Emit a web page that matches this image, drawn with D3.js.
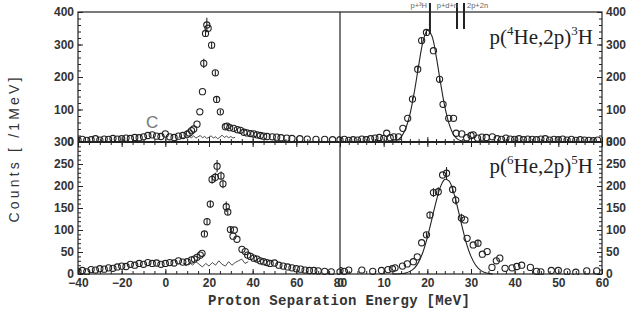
<!DOCTYPE html>
<html>
<head>
<meta charset="utf-8">
<title>p(4He,2p)3H / p(6He,2p)5H</title>
<style>
  html,body{margin:0;background:#fff;}
  svg{display:block;}
  .tick text{font-family:"Liberation Sans",Arial,sans-serif;font-size:12px;font-weight:bold;fill:#333;}
  .tick line{stroke:#222;}
</style>
</head>
<body>
<div id="chart"></div>
<script src="https://cdn.jsdelivr.net/npm/d3@7"></script>
<script>
// rows: [energy MeV, counts, error bar half-length in counts]
const he4Wide = [
  [-40,6,0],[-38,8,0],[-36,5,0],[-34,7,0],[-32,10,0],[-30,6,0],[-28,9,0],[-26,8,0],[-24,11,0],
  [-22,9,0],[-20,10,0],[-18,12,0],[-16,11,0],[-14,14,0],[-12,13,0],[-10,16,0],[-8,20,0],[-6,22,0],
  [-4,18,0],[-2,17,0],[0,25,0],[2,16,0],[4,14,0],[6,18,0],[8,20,0],[10,24,0],[11,28,0],[12,35,0],
  [13,40,0],[14.5,55,0],[15.8,93,0],[17,155,0],[17.6,242,14],[18.4,334,10],[19,360,22],[19.6,350,0],
  [21.2,298,10],[22.9,213,8],[23.5,131,8],[25.2,93,6],[27.5,47,0],[28.3,49,0],[29.5,44,0],[31.3,42,0],
  [33,38,0],[34.4,36,0],[36,30,0],[37.4,28,0],[39,26,0],[40.5,25,0],[42,22,0],[43.5,20,0],[45,18,0],
  [46.6,17,0],[49,16,0],[51,15,0],[53,13,0],[55.6,12,0],[58,11,0],[61.6,10,0],[65,9,0],[69,8,0],
  [73,8,0],[76.6,7,0],[80,7,0]
];
// carbon target background (thin line, "C")
const he4WideBg = [
  [6,14],[7,18],[8,12],[9,16],[10,11],[11,17],[12,13],[13,19],[14,12],[15,16],[16,20],[17,13],[18,17],
  [19,11],[20,15],[21,19],[22,12],[23,16],[24,10],[25,15],[26,21],[27,14],[28,18],[29,13],[30,17],[31,12],[32,15]
];
const he6Wide = [
  [-40,6,0],[-38,8,0],[-36,5,0],[-34,10,0],[-32,9,0],[-30,12,0],[-28,11,0],[-26,14,0],[-24,13,0],
  [-22,16,0],[-20,18,0],[-18,17,0],[-16,22,0],[-14,20,0],[-12,24,0],[-10,22,0],[-8,26,0],[-6,24,0],
  [-4,25,0],[-2,22,0],[0,24,0],[2,26,0],[4,25,0],[6,30,0],[8,27,0],[10,28,0],[12,32,0],[13.3,34,0],
  [14.5,38,0],[16,43,0],[16.8,47,0],[17.9,91,6],[19.1,119,8],[20.6,159,8],[21.4,215,10],[22.9,220,10],
  [23.7,245,14],[25.5,223,10],[26.4,205,10],[27.9,153,12],[28.6,141,8],[29.8,101,6],[31,86,0],
  [31.6,100,0],[32.8,79,0],[35.1,56,0],[36.6,51,0],[37.7,43,0],[39,40,0],[40.5,36,0],[42,34,0],
  [43.5,30,0],[45,28,0],[46.5,26,0],[48,24,0],[50,25,0],[52,20,0],[54,18,0],[56,16,0],[58,14,0],
  [60,12,0],[62,11,0],[64,9,0],[66,8,0],[68,8,0],[70,7,0],[73,6,0],[76,5,0],[80,5,0]
];
const he6WideBg = [
  [8,25],[9.5,18],[11,26],[12.5,20],[14,28],[15.5,22],[17,16],[18.5,24],[20,18],[21.5,26],[23,20],
  [24.5,30],[26,22],[27.5,18],[29,28],[30.5,20],[32,26],[33.5,30],[35,34],[36.5,24],[38,28]
];
const he4Fine = [
  [0,6,0],[1,8,0],[2,5,0],[3,7,0],[4,6,0],[5,9,0],[6,7,0],[7,10,0],[8,12,0],[9,14,0],[10,11,0],
  [10.7,27,0],[11.5,13,0],[12.3,16,0],[13.4,16,0],[14.4,42,0],[15.5,73,0],[16.6,132,6],[17.8,224,8],
  [18.7,312,10],[19.8,337,8],[21.4,281,0],[22.8,193,10],[23.6,116,0],[24.9,73,0],[26,73,0],[26.6,27,0],
  [27.9,25,0],[29,13,0],[30,20,0],[30.5,22,0],[31.5,12,0],[32.5,15,0],[33.5,14,0],[34.9,16,0],[36,10,0],
  [37,8,0],[38,12,0],[39,9,0],[40,8,0],[41,10,0],[42,7,0],[43,9,0],[44,8,0],[45,7,0],[46,9,0],[47,10,0],
  [48,6,0],[49,8,0],[50,7,0],[51,9,0],[52,6,0],[53,8,0],[54,5,0],[55,7,0],[56,6,0],[57,5,0],[58,4,0],[59,6,0]
];
const he4Fit = [
  [10,0],[11,0.5],[12,2],[13,5],[14,16],[15,40],[16,84],[17,152],[18,234],[19,308],[20,344],[21,328],
  [22,266],[23,184],[24,109],[25,55],[26,23],[27,8],[28,3],[29,1],[30,0]
];
const he6Fine = [
  [0,8,0],[1,6,0],[2,9,0],[5,9,0],[7.5,6,0],[9.5,8,0],[11,10,0],[12,12,0],[12.6,14,0],[14.3,18,0],
  [15.4,23,0],[16.8,28,0],[17.7,39,0],[18.7,71,0],[19.8,89,6],[20.6,134,8],[21.4,185,10],[22.5,187,10],
  [23.5,225,0],[24.4,229,14],[25.8,192,8],[26.5,168,10],[27.8,127,10],[28.6,123,0],[29.1,81,0],
  [30.5,66,0],[31.6,70,8],[32.6,45,0],[33.7,51,0],[34.8,15,0],[35.8,30,0],[36.6,36,0],[37.8,13,0],
  [39.4,14,0],[40.5,17,0],[41.6,20,0],[43.6,15,0],[45,6,0],[46,5,0],[48.4,8,0],[50,8,0],[52,5,0],
  [54,4,0],[56.5,7,0],[58.8,7,0]
];
const he6Fit = [
  [12,0],[13,0],[14,1],[15,2],[16,6],[17,13],[18,27],[19,50],[20,83],[21,123],[22,164],[23,198],
  [24,215],[25,211],[26,186],[27,148],[28,106],[29,68],[30,40],[31,21],[32,10],[33,4],[34,1.5],[35,0]
];
// breakup thresholds marked above the 4He panel
const thrLabels = ["p+³H", "p+d+n", "2p+2n"];
const thrE = [20.6, 26.8, 28.4];

const xLeftTicks = [-40, -20, 0, 20, 40, 60, 80];
const xRightTicks = [0, 10, 20, 30, 40, 50, 60];
const yTopTicks = [0, 100, 200, 300, 400];
const yBotTicks = [0, 50, 100, 150, 200, 250, 300];

const width = 629, height = 320;
const L = 78, M = 340, R = 602, T = 12, Mid = 142, B = 274;

const svg = d3.select("#chart").append("svg")
    .attr("width", width)
    .attr("height", height);

const xL = d3.scaleLinear().domain([-40, 80]).range([L, M]);
const xR = d3.scaleLinear().domain([0, 60]).range([M, R]);
const yT = d3.scaleLinear().domain([0, 400]).range([Mid, T]);
const yB = d3.scaleLinear().domain([0, 300]).range([B, Mid]);

const ink = "#222";

// clip rects for the four panels
const defs = svg.append("defs");
[["cTL", L, T, M, Mid], ["cTR", M, T, R, Mid], ["cBL", L, Mid, M, B], ["cBR", M, Mid, R, B]]
    .forEach(([id, x0, y0, x1, y1]) => {
        defs.append("clipPath").attr("id", id).append("rect")
            .attr("x", x0).attr("y", y0 - 1).attr("width", x1 - x0).attr("height", y1 - y0 + 2);
    });

function noDomain(g) { g.select(".domain").remove(); }

// ---- axes ----
function yAxis(scale, ticks, minorStep, x, right) {
    const mk = right ? d3.axisRight : d3.axisLeft;
    const [lo, hi] = scale.domain();
    svg.append("g").attr("transform", `translate(${x},0)`)
        .call(mk(scale).tickValues(d3.range(lo, hi + 0.1, minorStep)).tickSize(-3).tickFormat(""))
        .call(noDomain);
    svg.append("g").attr("transform", `translate(${x},0)`)
        .call(mk(scale).tickValues(ticks).tickSize(-5).tickPadding(4))
        .call(noDomain);
}
yAxis(yT, yTopTicks, 20, L, false);
yAxis(yB, yBotTicks, 10, L, false);
yAxis(yT, yTopTicks, 20, R, true);
yAxis(yB, yBotTicks, 10, R, true);

function xAxis(scale, ticks, minorStep, y, labels, up) {
    const mk = up ? d3.axisBottom : d3.axisTop;
    const [lo, hi] = scale.domain();
    svg.append("g").attr("transform", `translate(0,${y})`)
        .call(mk(scale).tickValues(d3.range(lo, hi + 0.1, minorStep)).tickSize(-3).tickFormat(""))
        .call(noDomain);
    const ax = mk(scale).tickValues(ticks).tickSize(-5).tickPadding(4);
    if (!labels) ax.tickFormat("");
    svg.append("g").attr("transform", `translate(0,${y})`).call(ax).call(noDomain);
}
// bottom of lower panels (labelled), shared middle line (ticks both sides)
xAxis(xL, xLeftTicks, 5, B, true, true);
xAxis(xR, xRightTicks, 2, B, true, true);
xAxis(xL, xLeftTicks, 5, Mid, false, true);
xAxis(xR, xRightTicks, 2, Mid, false, true);
xAxis(xL, xLeftTicks, 5, Mid, false, false);
xAxis(xR, xRightTicks, 2, Mid, false, false);

// frame
const frame = svg.append("g").attr("stroke", ink).attr("fill", "none");
frame.append("rect").attr("x", L).attr("y", T).attr("width", R - L).attr("height", B - T).attr("stroke-width", 1.2);
frame.append("line").attr("x1", M).attr("x2", M).attr("y1", T).attr("y2", B).attr("stroke-width", 1.2);
frame.append("line").attr("x1", L).attr("x2", R).attr("y1", Mid).attr("y2", Mid).attr("stroke-width", 2);

// ---- data ----
function panel(clip, x, y, pts, bg, fit) {
    const g = svg.append("g").attr("clip-path", `url(#${clip})`);
    if (bg) {
        g.append("path").datum(bg)
            .attr("fill", "none").attr("stroke", ink).attr("stroke-width", 0.8)
            .attr("d", d3.line().x(d => x(d[0])).y(d => y(d[1])));
    }
    if (fit) {
        g.append("path").datum(fit)
            .attr("fill", "none").attr("stroke", ink).attr("stroke-width", 1.1)
            .attr("d", d3.line().curve(d3.curveCatmullRom).x(d => x(d[0])).y(d => y(d[1])));
    }
    g.selectAll("line.err").data(pts.filter(d => d[2] > 0)).join("line")
        .attr("class", "err")
        .attr("x1", d => x(d[0])).attr("x2", d => x(d[0]))
        .attr("y1", d => y(d[1] - d[2])).attr("y2", d => y(d[1] + d[2]))
        .attr("stroke", ink).attr("stroke-width", 1.1);
    g.selectAll("circle").data(pts).join("circle")
        .attr("cx", d => x(d[0])).attr("cy", d => y(d[1])).attr("r", 3.1)
        .attr("fill", "none").attr("stroke", ink).attr("stroke-width", 1.1);
}
panel("cTL", xL, yT, he4Wide, he4WideBg, null);
panel("cBL", xL, yB, he6Wide, he6WideBg, null);
panel("cTR", xR, yT, he4Fine, null, he4Fit);
panel("cBR", xR, yB, he6Fine, null, he6Fit);

// "C" background tag
svg.append("text").attr("x", 146).attr("y", 128)
    .attr("font-family", "Liberation Sans, Arial, sans-serif").attr("font-size", 17)
    .attr("fill", "#777").text("C");

// thresholds
const thr = svg.append("g");
thrE.forEach((e, i) => {
    thr.append("line").attr("x1", xR(e)).attr("x2", xR(e))
        .attr("y1", 3).attr("y2", i === 0 ? 34 : 29)
        .attr("stroke", ink).attr("stroke-width", 2);
});
const thrAnchor = ["end", "end", "start"];
const thrDx = [-3, 1, 3];
thrLabels.forEach((t, i) => {
    thr.append("text").attr("x", xR(thrE[i]) + thrDx[i]).attr("y", 8)
        .attr("text-anchor", thrAnchor[i])
        .attr("font-family", "Liberation Sans, Arial, sans-serif").attr("font-size", 7.5)
        .attr("fill", "#666").text(t);
});

// reaction labels
function reaction(y, a, b) {
    const t = svg.append("text").attr("x", 593).attr("y", y).attr("text-anchor", "end")
        .attr("font-family", "Liberation Serif, Times New Roman, serif").attr("font-size", 21)
        .attr("fill", ink);
    t.append("tspan").text("p(");
    t.append("tspan").attr("font-size", 13).attr("dy", -9).text(a);
    t.append("tspan").attr("dy", 9).text("He,2p)");
    t.append("tspan").attr("font-size", 13).attr("dy", -9).text(b);
    t.append("tspan").attr("dy", 9).text("H");
}
reaction(44, "4", "3");
reaction(173, "6", "5");

// axis titles
svg.append("text")
    .attr("transform", "translate(19,150) rotate(-90)")
    .attr("text-anchor", "middle")
    .attr("font-family", "Liberation Sans, Arial, sans-serif").attr("font-size", 14)
    .attr("fill", "#333")
    .attr("textLength", 145).attr("lengthAdjust", "spacing")
    .text("Counts [ /1MeV]");

svg.append("text")
    .attr("x", 339).attr("y", 305)
    .attr("text-anchor", "middle")
    .attr("font-family", "Liberation Mono, Courier New, monospace").attr("font-size", 14)
    .attr("font-weight", "bold")
    .attr("fill", "#333")
    .attr("textLength", 262).attr("lengthAdjust", "spacing")
    .text("Proton Separation Energy [MeV]");
</script>
</body>
</html>
